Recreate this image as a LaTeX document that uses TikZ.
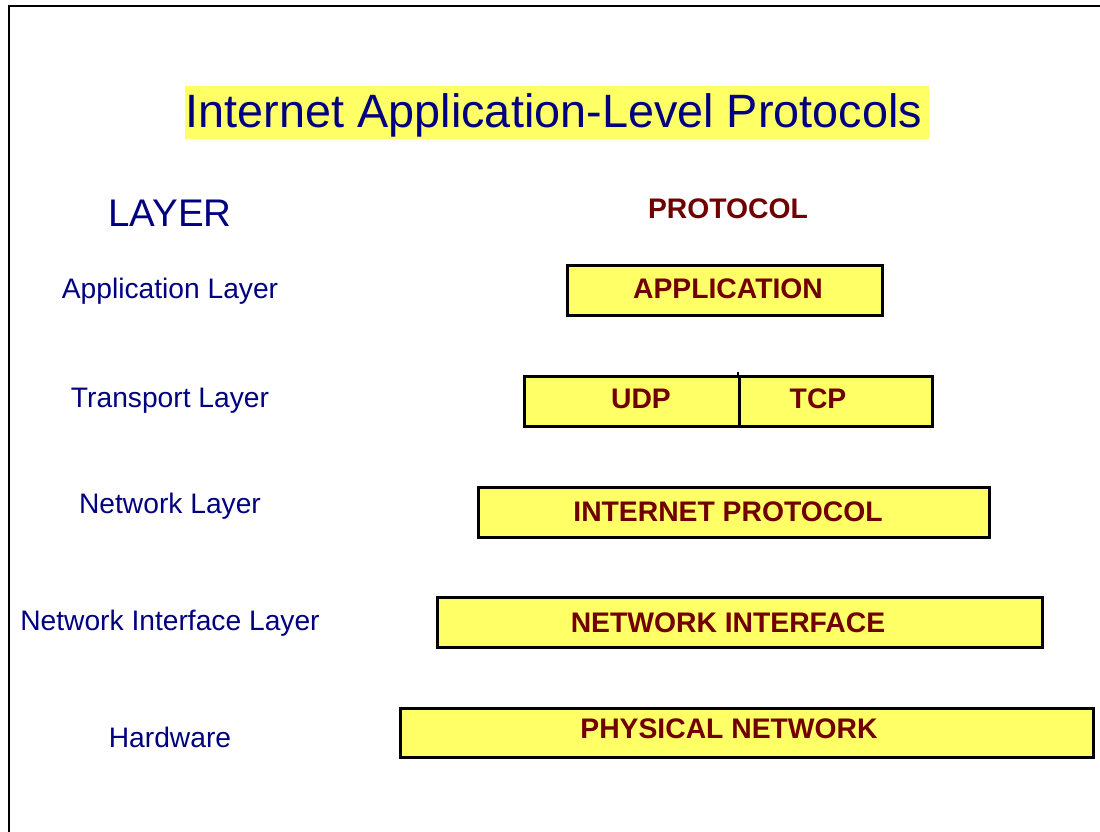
\documentclass[tikz,border=0pt]{standalone}
\usepackage{fontspec}
\setmainfont{Liberation Sans}
\definecolor{navy}{RGB}{0,0,128}
\definecolor{maroon}{RGB}{112,0,0}
\definecolor{hiyellow}{RGB}{255,255,102}
\tikzset{
  layerlbl/.style={text=navy, font=\fontsize{28.2}{32}\selectfont, inner sep=0pt, anchor=center},
  protobox/.style={draw=black, line width=3pt, fill=hiyellow, inner sep=0pt, anchor=north west},
  prototext/.style={text=maroon, font=\fontsize{28.3}{32}\selectfont\bfseries, inner sep=0pt},
}
\begin{document}
\begin{tikzpicture}[x=1pt,y=-1pt]
\useasboundingbox (0,0) rectangle (1100,832);
\fill[white] (0,0) rectangle (1100,832);
% frame
\draw[line width=1.5pt] (9,832) -- (9,6) -- (1100,6);
% title
\node[fill=hiyellow, minimum width=744pt, minimum height=53pt, inner sep=0pt] (titlebg) at (557,113) {};
\node[text=navy, inner sep=0pt, font=\fontsize{46.8}{52}\selectfont] (title) at (554,115) {Internet Application-Level Protocols};
% headers
\node[text=navy, font=\fontsize{38.5}{42}\selectfont, inner sep=0pt] (layerhd) at (170,213) {LAYER};
\node[prototext] (protohd) at (728,209) {PROTOCOL};
% layer labels
\node[layerlbl] (l1) at (170,291) {Application Layer};
\node[layerlbl] (l2) at (170,401) {Transport Layer};
\node[layerlbl] (l3) at (170,506) {Network Layer};
\node[layerlbl] (l4) at (170,623) {Network Interface Layer};
\node[layerlbl] (l5) at (170,737) {Hardware};
% boxes
\node[protobox, minimum width=315pt, minimum height=50pt] (bapp) at (565.5,263.5) {};
\node[protobox, minimum width=215pt, minimum height=50pt] (budp) at (522.5,374.5) {};
\node[protobox, minimum width=193pt, minimum height=50pt] (btcp) at (737.5,374.5) {};
\node[protobox, minimum width=511pt, minimum height=50pt] (bip) at (476.5,485.5) {};
\node[protobox, minimum width=605pt, minimum height=50pt] (bni) at (435.5,595.5) {};
\node[protobox, minimum width=693pt, minimum height=49pt] (bpn) at (398.5,706.5) {};
\draw[line width=2pt] (btcp.north west) -- ++(0,-3);
% box texts
\node[prototext] (tapp) at (728,289) {APPLICATION};
\node[prototext] (tudp) at (641,399) {UDP};
\node[prototext] (ttcp) at (818,399) {TCP};
\node[prototext] (tip) at (728,512) {INTERNET PROTOCOL};
\node[prototext] (tni) at (728,623) {NETWORK INTERFACE};
\node[prototext] (tpn) at (729,729) {PHYSICAL NETWORK};
\end{tikzpicture}
\end{document}
